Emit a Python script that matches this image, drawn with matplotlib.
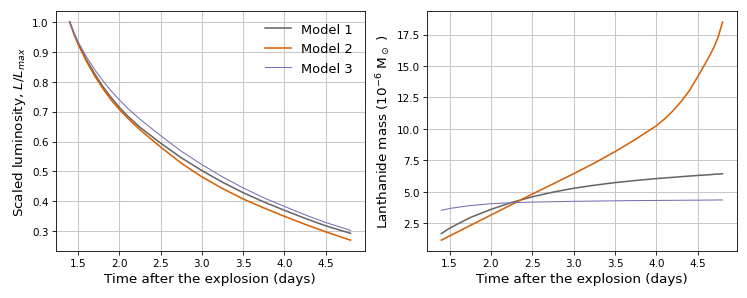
import matplotlib
matplotlib.use("Agg")
import matplotlib.pyplot as plt

# time grids (days after explosion)
t_lum = [1.4, 1.45, 1.5, 1.6, 1.7, 1.8, 1.9, 2.0, 2.1, 2.25, 2.5, 2.75, 3.0,
         3.25, 3.5, 3.75, 4.0, 4.25, 4.5, 4.8]
t_mass = [1.4, 1.5, 1.6, 1.75, 2.0, 2.25, 2.5, 2.75, 3.0, 3.25, 3.5, 3.75,
          4.0, 4.1, 4.2, 4.3, 4.4, 4.5, 4.6, 4.65, 4.7, 4.75, 4.8]

# scaled luminosity L/Lmax
lum_m1 = [1.0, 0.963, 0.930, 0.875, 0.828, 0.785, 0.748, 0.715, 0.686, 0.648,
          0.595, 0.546, 0.503, 0.464, 0.429, 0.398, 0.370, 0.343, 0.318, 0.293]
lum_m2 = [1.0, 0.962, 0.927, 0.870, 0.821, 0.778, 0.740, 0.708, 0.679, 0.640,
          0.582, 0.528, 0.482, 0.443, 0.408, 0.378, 0.350, 0.323, 0.298, 0.270]
lum_m3 = [1.0, 0.966, 0.935, 0.885, 0.842, 0.804, 0.770, 0.740, 0.712, 0.675,
          0.620, 0.568, 0.523, 0.482, 0.445, 0.412, 0.383, 0.355, 0.329, 0.303]

# lanthanide mass (1e-6 Msun)
mass_m1 = [1.68, 2.10, 2.45, 2.95, 3.60, 4.15, 4.60, 4.97, 5.28, 5.52, 5.73,
           5.90, 6.05, 6.10, 6.15, 6.20, 6.25, 6.30, 6.34, 6.36, 6.39, 6.41,
           6.43]
mass_m2 = [1.15, 1.49, 1.82, 2.32, 3.15, 3.98, 4.82, 5.62, 6.44, 7.28, 8.19,
           9.18, 10.25, 10.80, 11.43, 12.18, 13.05, 14.15, 15.30, 15.90,
           16.55, 17.35, 18.50]
mass_m3 = [3.53, 3.67, 3.77, 3.90, 4.05, 4.13, 4.18, 4.21, 4.24, 4.26, 4.28,
           4.30, 4.31, 4.315, 4.32, 4.325, 4.33, 4.33, 4.34, 4.34, 4.345,
           4.35, 4.35]

labels = ['Model 1', 'Model 2', 'Model 3']
colors = ['#666666', '#d95f02', '#7570b3']
widths = [1.5, 1.5, 1.0]

fig = plt.figure(figsize=(10, 4), dpi=74.7)
ax1 = fig.add_axes([0.0745, 0.157, 0.4135, 0.803])
ax2 = fig.add_axes([0.572, 0.157, 0.414, 0.803])

for y, lab, c, lw in zip([lum_m1, lum_m2, lum_m3], labels, colors, widths):
    ax1.plot(t_lum, y, color=c, lw=lw, label=lab)
for y, lab, c, lw in zip([mass_m1, mass_m2, mass_m3], labels, colors, widths):
    ax2.plot(t_mass, y, color=c, lw=lw, label=lab)

ax1.set_ylabel('Scaled luminosity, $L/L_{max}$', fontsize=13)
ax2.set_ylabel('Lanthanide mass (10$^{-6}$ M$_\\odot$ )', fontsize=13)
for ax in (ax1, ax2):
    ax.set_xlabel('Time after the explosion (days)', fontsize=13)
    ax.tick_params(labelsize=10)
    ax.grid(True, color='#c8c8c8', lw=1.0)
    ax.set_axisbelow(True)

ax1.legend(loc='upper right', frameon=False, fontsize=12.5)

fig.savefig('out.png', dpi=74.7)
